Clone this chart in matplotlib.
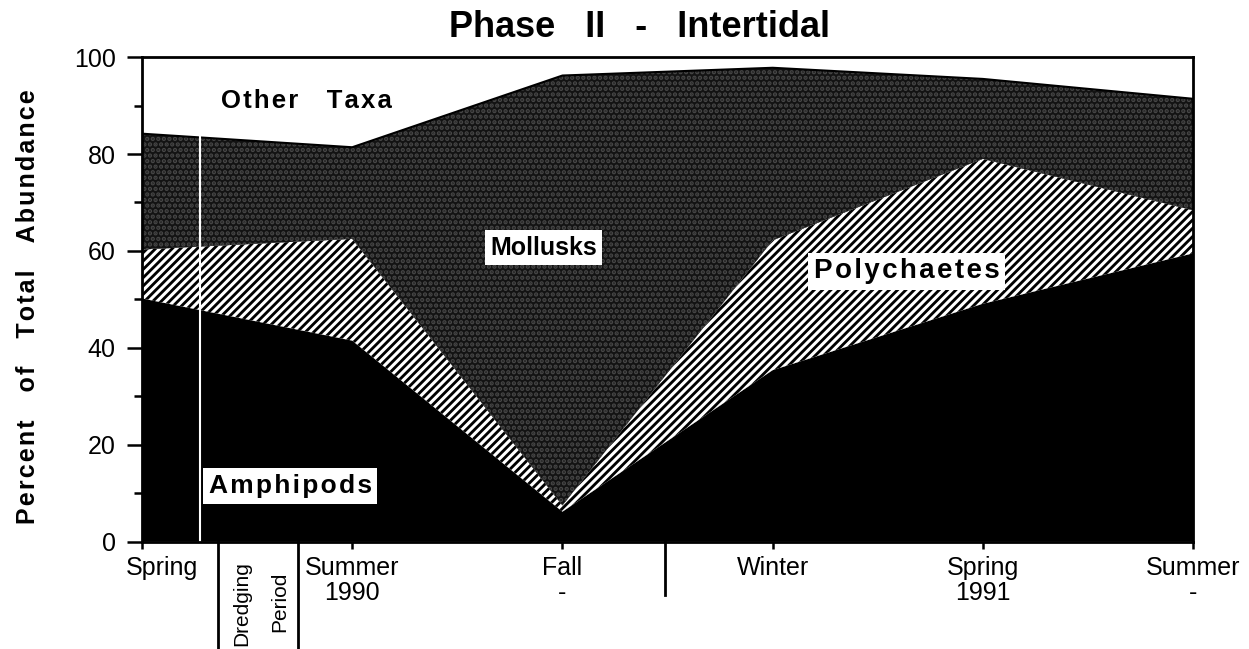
import numpy as np
import matplotlib
matplotlib.use("Agg")
import matplotlib.pyplot as plt
from matplotlib.ticker import MultipleLocator
from matplotlib.transforms import ScaledTranslation

plt.rcParams['font.family'] = ['Liberation Sans', 'DejaVu Sans']
plt.rcParams['hatch.linewidth'] = 2.2

# seasons sampled (x positions 0..5)
seasons = ['Spring', 'Summer\n1990', 'Fall\n-', 'Winter', 'Spring\n1991', 'Summer\n-']

# percent of total abundance per taxon
amphipods = [50.2, 41.5, 6.2, 35.4, 49.1, 59.5]
polychaetes = [10.1, 21.0, 1.3, 26.8, 29.9, 8.9]
mollusks = [23.9, 18.9, 88.7, 35.6, 16.5, 23.0]
# other taxa fill the rest up to 100


def spaced(s):
    # slight letter spacing like the original typeset labels (hair space)
    return '\u200a'.join(s)


x = np.arange(len(seasons))
amph_top = np.array(amphipods)
poly_top = amph_top + np.array(polychaetes)
moll_top = poly_top + np.array(mollusks)

fig = plt.figure(figsize=(12.49, 6.49), dpi=100)
ax = fig.add_axes([0.1137, 0.1653, 0.8415, 0.7467])

ax.fill_between(x, 0, amph_top, facecolor='black', lw=0)
ax.fill_between(x, amph_top, poly_top, facecolor='black', edgecolor='white', hatch='////', lw=0)
ax.fill_between(x, poly_top, moll_top, facecolor='#131313', edgecolor='#474747', hatch='...', lw=0)
ax.plot(x, moll_top, color='black', lw=1.5)

# thin white line marking the start of dredging
ax.axvline(0.276, color='white', lw=1.5)

ax.set_xlim(0, 5)
ax.set_ylim(0, 100)

for s in ax.spines.values():
    s.set_linewidth(2)

ax.yaxis.set_major_locator(MultipleLocator(20))
ax.yaxis.set_minor_locator(MultipleLocator(10))
ax.tick_params(axis='y', which='major', length=11, width=1.8, labelsize=18, pad=8)
ax.tick_params(axis='y', which='minor', length=6, width=1.8)
ax.set_xticks(x)
ax.set_xticklabels(seasons)
ax.tick_params(axis='x', length=5, width=1.8, labelsize=18, pad=5)
for lbl in ax.get_xticklabels():
    lbl.set_linespacing(1.05)
first = ax.get_xticklabels()[0]
first.set_transform(first.get_transform() + ScaledTranslation(0.2, 0, fig.dpi_scale_trans))

# dredging period marks below the axis
trans = ax.get_xaxis_transform()
for xv in [0.362, 0.743]:
    ax.plot([xv, xv], [0, -0.23], color='black', lw=2, transform=trans, clip_on=False)
ax.plot([2.486, 2.486], [0, -0.11], color='black', lw=2, transform=trans, clip_on=False)
ax.text(0.476, -0.128, 'Dredging', rotation=90, ha='center', va='center', fontsize=15, transform=trans)
ax.text(0.657, -0.124, 'Period', rotation=90, ha='center', va='center', fontsize=15, transform=trans)

box = dict(facecolor='white', edgecolor='none', pad=4)
ax.text(0.78, 90.9, spaced('Other') + '    ' + spaced('Taxa'), ha='center', va='center',
        fontsize=18.5, fontweight='bold')
ax.text(1.91, 60.7, 'Mollusks', ha='center', va='center', fontsize=18, fontweight='bold', bbox=box)
ax.text(3.638, 55.8, spaced('Polychaetes'), ha='center', va='center', fontsize=20, fontweight='bold', bbox=box)
ax.text(0.705, 11.5, spaced('Amphipods'), ha='center', va='center', fontsize=19, fontweight='bold', bbox=box)

fig.text(0.512, 0.957, 'Phase   II   -   Intertidal', ha='center', va='center', fontsize=26, fontweight='bold')
ylab = '    '.join(spaced(w) for w in ['Percent', 'of', 'Total', 'Abundance'])
fig.text(0.0224, 0.528, ylab, rotation=90, ha='center', va='center', fontsize=18, fontweight='bold')

fig.savefig('out.png', dpi=100)
